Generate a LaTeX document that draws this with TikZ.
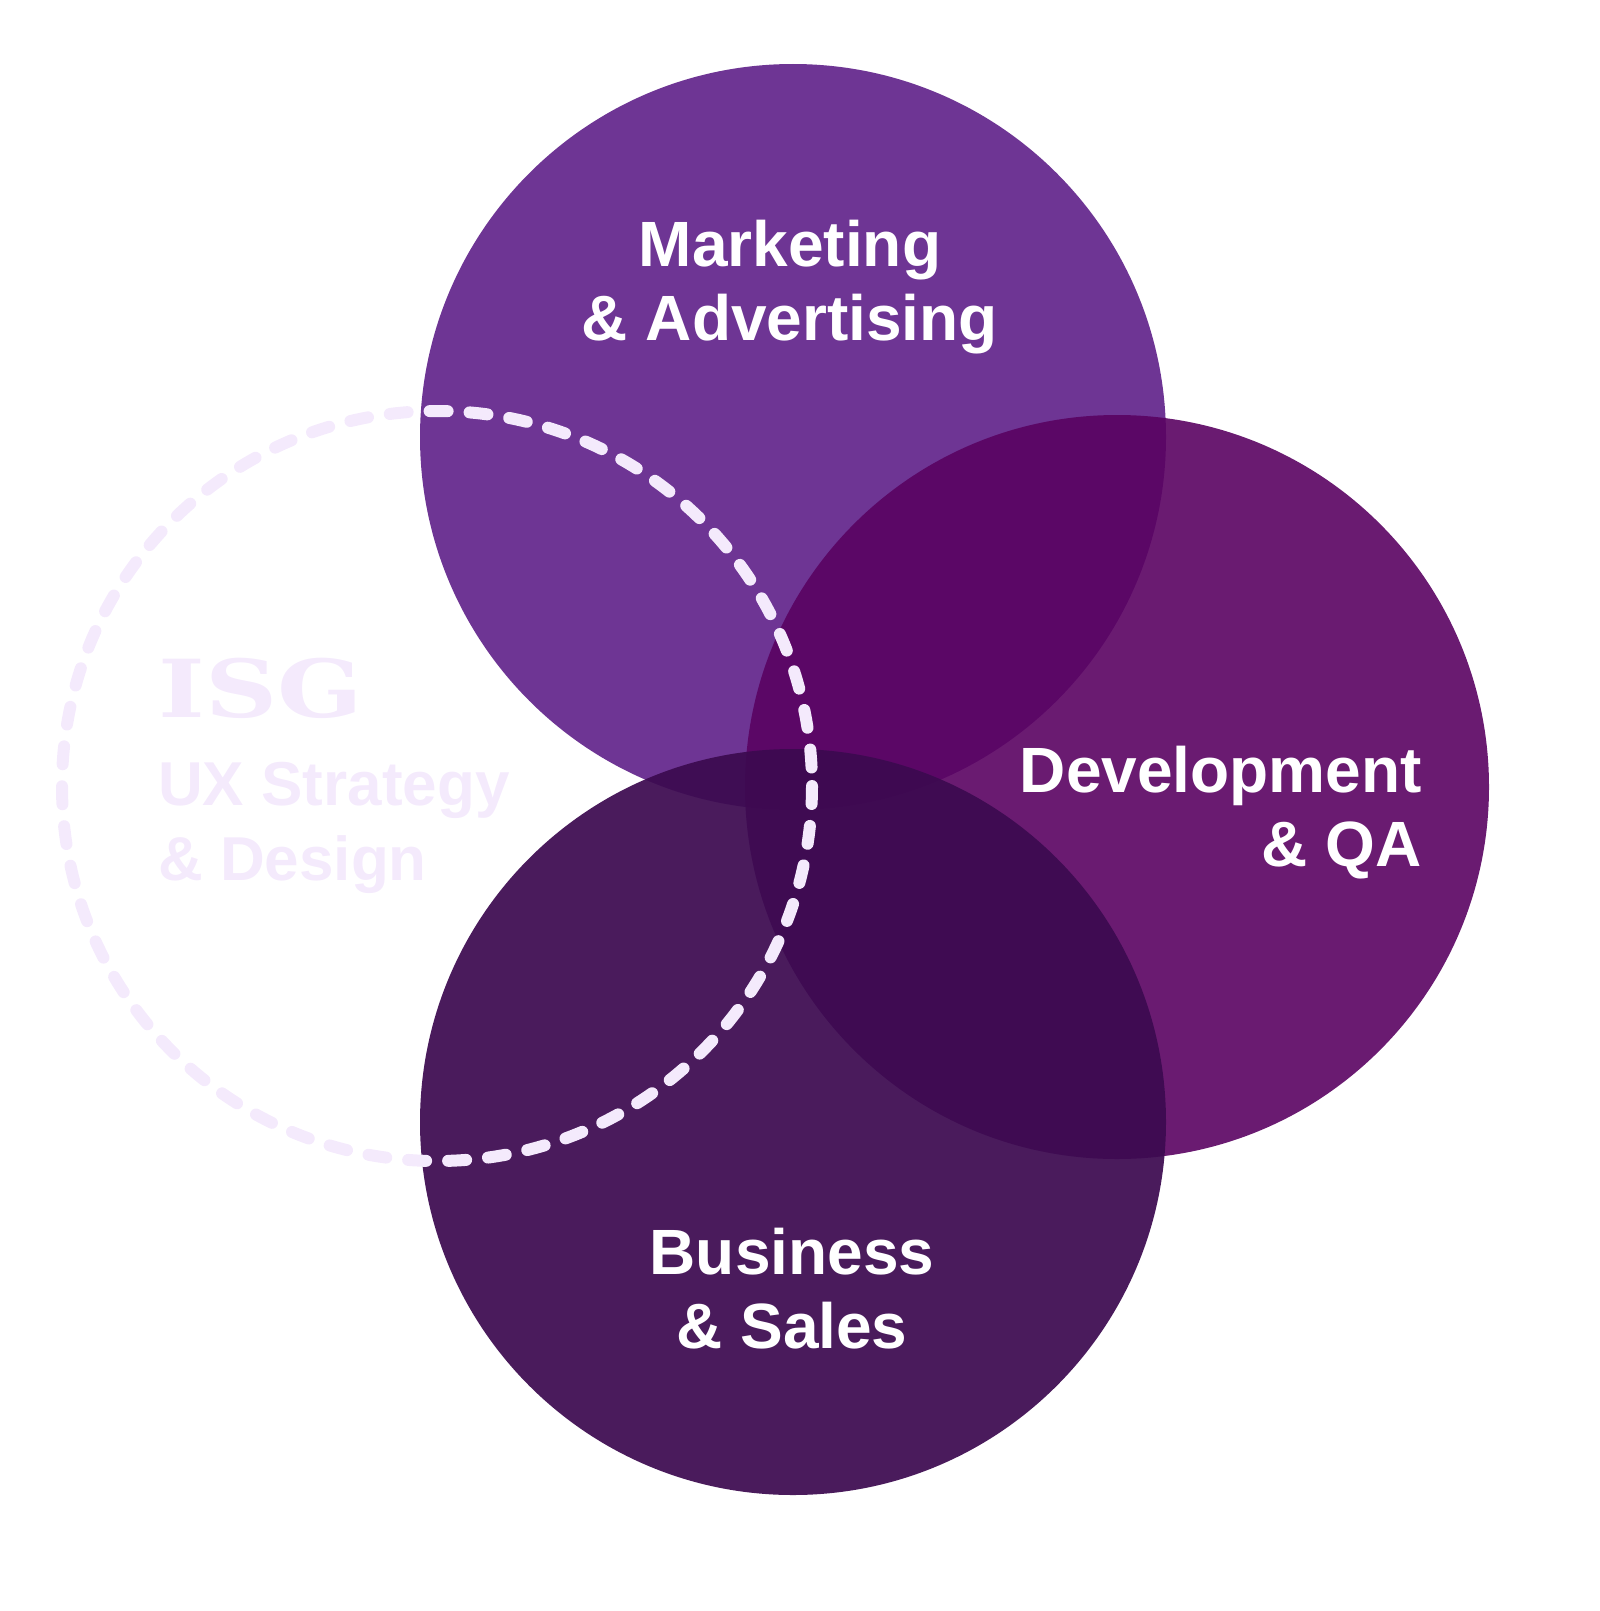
\documentclass[tikz,border=0pt]{standalone}
\usepackage{fontspec}
\setmainfont{Liberation Sans}
\newfontfamily\logofont{DejaVu Serif}
\definecolor{mktpurple}{HTML}{6E3594}
\definecolor{devpurple}{HTML}{5A0262}
\definecolor{bizpurple}{HTML}{3C0A50}
\definecolor{uxlilac}{HTML}{F4EAFC}
\tikzset{
  area/.style={draw=none},
  label text/.style={text=white,font=\bfseries\fontsize{64}{74}\selectfont,align=center,inner sep=0pt},
  ux text/.style={text=uxlilac,font=\bfseries\fontsize{62}{75}\selectfont,align=left,inner sep=0pt,anchor=base west}
}
\begin{document}
\begin{tikzpicture}[x=1pt,y=-1pt]
    \useasboundingbox (0,0) rectangle (1600,1611);
    % three areas
    \fill[mktpurple] (793,437) circle (373);
    \fill[devpurple,fill opacity=0.9] (1117,787) circle (372);
    \fill[bizpurple,fill opacity=0.93] (793,1122) circle (373);

    % ux circle
    \draw[uxlilac,line width=12pt,line cap=round,dash pattern=on 18pt off 22pt] (437,786) circle (375);

    % labels (anchor is the last line)
    \node[label text,anchor=base] (mkt) at (790,340) {Marketing\\\& Advertising};
    \node[label text,anchor=base east,align=right] (dev) at (1422,866) {Development\\\& QA};
    \node[label text,anchor=base] (biz) at (792,1348) {Business\\\& Sales};

    \node[ux text,font=\logofont\bfseries\fontsize{80}{80}\selectfont,xscale=1.25] (logo) at (158,717) {ISG};
    \node[ux text] (ux) at (158,880) {UX Strategy\\\& Design};
\end{tikzpicture}
\end{document}
